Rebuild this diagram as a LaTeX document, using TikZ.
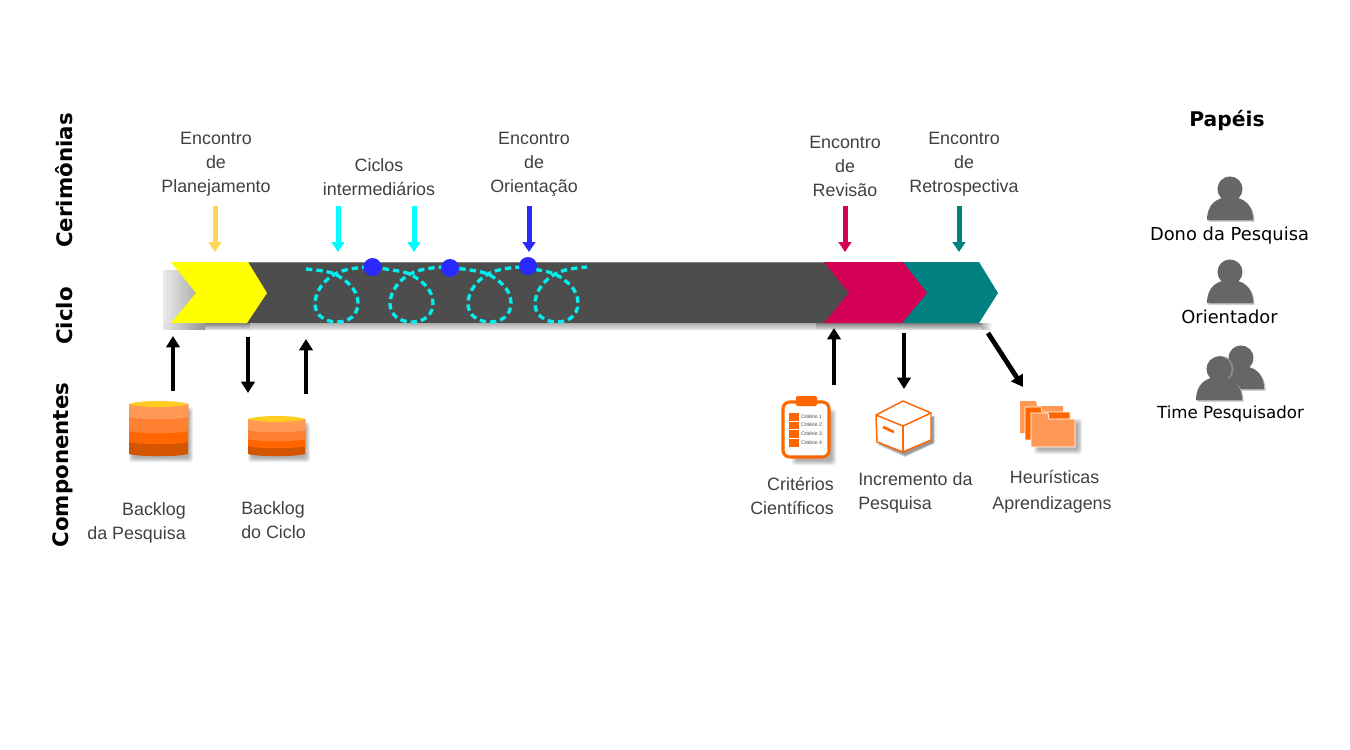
\documentclass[tikz,border=0pt]{standalone}
\usepackage{fontspec}
\setmainfont{Liberation Sans}
\newfontfamily\verd{DejaVu Sans}
\usetikzlibrary{arrows.meta}
\definecolor{bardark}{HTML}{4D4D4D}
\definecolor{txt}{HTML}{404040}
\definecolor{mag}{HTML}{D40055}
\definecolor{tealc}{HTML}{008080}
\definecolor{yarrow}{HTML}{FFD555}
\definecolor{bluec}{HTML}{2A2AFF}
\definecolor{cyanc}{HTML}{00F0F0}
\definecolor{cyana}{HTML}{00FFFF}
\definecolor{yelc}{HTML}{FFFF00}
\definecolor{org}{HTML}{FF6600}
\definecolor{org2}{HTML}{FF9955}
\definecolor{org3}{HTML}{FF8030}
\definecolor{org4}{HTML}{D45500}
\definecolor{topy}{HTML}{FFCC22}
\definecolor{persong}{HTML}{666666}
\tikzset{
  lbl/.style={font=\fontsize{13.4}{18}\selectfont,text=txt,align=center,inner sep=0pt},
  lblr/.style={lbl,align=right,anchor=east},
  lbll/.style={lbl,align=left,anchor=west},
  rolelbl/.style={font=\verd\fontsize{13.4}{14}\selectfont,text=black,inner sep=0pt},
  rowlbl/.style={font=\verd\bfseries\fontsize{16}{18}\selectfont,text=black,rotate=90,inner sep=0pt},
  cerarrow/.style={line width=3.75pt,-{Triangle[width=9.5pt,length=7.5pt]}},
  blkarrow/.style={line width=3.6pt,black,-{Triangle[width=10pt,length=8.5pt]}},
  loopline/.style={cyanc,line width=2.5pt,dash pattern=on 4.8pt off 3pt},
  dot/.style={circle,fill=bluec,minimum size=13.5pt,inner sep=0pt},
  person/.pic={
    \fill[black!28,shift={(1.5,1.5)}] (-23,31) .. controls (-23,15) and (-13,8) .. (0,8) .. controls (13,8) and (23,15) .. (23,31) -- cycle;
    \fill[persong] (-23,31) .. controls (-23,15) and (-13,8) .. (0,8) .. controls (13,8) and (23,15) .. (23,31) -- cycle;
    \fill[persong] (0,0) circle[radius=9.4pt];
  }
}
% soft shadow: x0 y0 x1 y1 of the shadow core
\newcommand{\softrect}[4]{%
  \foreach \ee in {0,1,2,3,4}{%
    \fill[black,fill opacity=0.07,rounded corners=2pt] (#1-\ee,#2-\ee) rectangle (#3+\ee,#4+\ee);
  }%
}
\newcommand{\cylband}[5]{% x0 x1 top bottom colour
  \fill[#5] (#1,#3) -- (#2,#3) -- (#2,#4) .. controls (#2-10,#4+3) and (#1+10,#4+3) .. (#1,#4) -- cycle;
}
\newcommand{\cyl}[7]{% x0 x1 top b1 b2 b3 bottom
  \softrect{#1+4}{#3+10}{#2+1}{#7+2}
  \cylband{#1}{#2}{#3+3}{#7-2}{org4}
  \cylband{#1}{#2}{#3+3}{#6}{org}
  \cylband{#1}{#2}{#3+3}{#5}{org3}
  \cylband{#1}{#2}{#3+3}{#4}{org2}
  \fill[topy] (#1,#3+3) .. controls (#1+10,#3-1) and (#2-10,#3-1) .. (#2,#3+3) .. controls (#2-10,#3+7) and (#1+10,#3+7) .. (#1,#3+3) -- cycle;
}
\newcommand{\loopat}[1]{
  .. controls (#1-18,270) and (#1-8,271) .. (#1,274)
  .. controls (#1+9,279) and (#1+23,288) .. (#1+23,303)
  .. controls (#1+23,315) and (#1+14,322) .. (#1+2,322)
  .. controls (#1-10,322) and (#1-20,315) .. (#1-20,304)
  .. controls (#1-20,290) and (#1-9,279) .. (#1,274)
  .. controls (#1+7,270) and (#1+18,268) .. (#1+32,267)
}
\begin{document}
\begin{tikzpicture}[x=0.75pt,y=-0.75pt]
\useasboundingbox (0,0) rectangle (1350,750);
% bar shadows
\fill[left color=black!8,right color=black!32] (163,270) rectangle (197,323);
\fill[top color=black!32,bottom color=black!12] (205,323) rectangle (830,329);
\fill[left color=black!10,right color=black!42] (163,323) rectangle (205,329);
\fill[top color=black!50,bottom color=black!15] (205,323) rectangle (250,329);
\fill[top color=black!50,bottom color=black!15] (816,323) rectangle (982,329);
\fill[left color=black!30,right color=white] (982,323) rectangle (992,329);
% bar
\fill[bardark] (240,262) rectangle (852,323);
\draw[black!50,line width=0.75pt] (248,262) -- (830,262);
% chevrons
\fill[yelc] (171,262) -- (248,262) -- (267,293) -- (247,323) -- (171,323) -- (196,293) -- cycle;
\fill[tealc] (895,262) -- (979,262) -- (998,293) -- (979,323) -- (895,323) -- cycle;
\fill[mag] (824,262) -- (903,262) -- (927,293) -- (902,323) -- (824,323) -- (849,293) -- cycle;
% loops
\draw[loopline] (306,269) \loopat{335} -- (372,267) \loopat{410} -- (448,267) \loopat{488} -- (524,267) \loopat{555};
\node[dot] (d1) at (372.5,267) {};
\node[dot] (d2) at (450,268) {};
\node[dot] (d3) at (528,266) {};

% ceremony labels
\node[lbl] (plan) at (216,164) {Encontro\\de\\Planejamento};
\node[lbl] (inter) at (379,177.5) {Ciclos\\intermediários};
\node[lbl] (orient) at (534,164) {Encontro\\de\\Orientação};
\node[lbl] (rev) at (845,166) {Encontro\\de\\Revisão};
\node[lbl] (retro) at (964,164) {Encontro\\de\\Retrospectiva};

% ceremony arrows
\coordinate (ya) at (215,206); \coordinate (yb) at (215,252);
\coordinate (c1a) at (338,206); \coordinate (c1b) at (338,252);
\coordinate (c2a) at (414,206); \coordinate (c2b) at (414,252);
\coordinate (ba) at (529,206); \coordinate (bb) at (529,252);
\coordinate (ma) at (845,206); \coordinate (mb) at (845,252);
\coordinate (ta) at (959,206); \coordinate (tb) at (959,252);
\draw[cerarrow,yarrow] (ya) -- (yb);
\draw[cerarrow,cyana] (c1a) -- (c1b);
\draw[cerarrow,cyana] (c2a) -- (c2b);
\draw[cerarrow,bluec] (ba) -- (bb);
\draw[cerarrow,mag] (ma) -- (mb);
\draw[cerarrow,tealc] (ta) -- (tb);

% row labels
\node[rowlbl] (rc) at (64.5,180.5) {Cerimônias};
\node[rowlbl] (rd) at (65,316) {Ciclo};
\node[rowlbl] (re) at (62.5,465) {Componentes};

% black arrows
\coordinate (a1a) at (173,391); \coordinate (a1b) at (173,336);
\coordinate (a2a) at (248,337); \coordinate (a2b) at (248,393);
\coordinate (a3a) at (306,394); \coordinate (a3b) at (306,339);
\coordinate (a4a) at (834,385); \coordinate (a4b) at (834,328);
\coordinate (a5a) at (904,333); \coordinate (a5b) at (904,389);
\coordinate (a6a) at (988,333); \coordinate (a6b) at (1023,387);
\draw[blkarrow] (a1a) -- (a1b);
\draw[blkarrow] (a2a) -- (a2b);
\draw[blkarrow] (a3a) -- (a3b);
\draw[blkarrow] (a4a) -- (a4b);
\draw[blkarrow] (a5a) -- (a5b);
\draw[blkarrow] (a6a) -- (a6b);

% cylinders
\cyl{129}{188}{401}{417}{431}{442}{456}
\cyl{248}{305}{416}{430}{439}{446}{456}
\node[lblr] (bp) at (186,523) {Backlog\\da Pesquisa};
\node[lbll] (bc) at (241,520.5) {Backlog\\do Ciclo};

% clipboard
\softrect{796}{413}{832}{461}
\draw[org,fill=white,line width=2.3pt,rounded corners=5pt] (783,402) rectangle (829,457);
\fill[org,rounded corners=1pt] (796,396) rectangle (817,406);
\fill[org] (789,413) rectangle (799,421);
\fill[org] (789,422) rectangle (799,429);
\fill[org] (789,430) rectangle (799,438);
\fill[org] (789,439) rectangle (799,447);
\foreach \yy/\tt in {417/1,425/2,434/3,443/4}
  \node[font=\fontsize{3.8}{4}\selectfont,text=txt,anchor=west,inner sep=0pt] (crit\tt) at (801,\yy) {Critério \tt};
\node[lblr] (cc) at (834,496) {Critérios\\Científicos};

% box
\foreach \ee in {0,1,2}{
  \fill[black,fill opacity=0.16] (878,443+\ee) -- (905,455+\ee) -- (933+\ee,443) -- (933+\ee,416) -- (903,430) -- cycle;
}
\draw[org,fill=white,line width=1.1pt,line join=round] (903,401) -- (931,413) -- (931,440) -- (903,452) -- (877,442) -- (876,415) -- cycle;
\draw[org,line width=1.1pt,line join=round] (876,415) -- (903,426) -- (931,413);
\draw[org,line width=1.1pt] (903,426) -- (903,452);
\draw[org,line width=2pt] (883,427) -- (894,432);
\node[lbll] (inc) at (858,493) {Incremento da\\Pesquisa};

% folders
\softrect{1038}{423}{1078}{450}
\fill[org2] (1020,433) -- (1020,401) -- (1036,401) -- (1037,406) -- (1063,406) -- (1063,433) -- cycle;
\draw[white,fill=org,line width=0.5pt] (1025,440) -- (1025,407) -- (1041,407) -- (1042,412) -- (1070,412) -- (1070,440) -- cycle;
\draw[white,fill=org2,line width=0.6pt] (1031,447) -- (1031,413) -- (1048,413) -- (1049,419) -- (1075,419) -- (1075,447) -- cycle;
\node[lbl] (heu) at (1052,492) {\hspace*{4pt}Heurísticas\\[1.5pt]Aprendizagens};

% roles
\node[font=\verd\bfseries\fontsize{15.2}{18}\selectfont,inner sep=0pt] (pap) at (1227,120.5) {Papéis};
\pic at (1230,189) {person};
\node[rolelbl] (dono) at (1229.5,235.5) {Dono da Pesquisa};
\pic at (1230,272) {person};
\node[rolelbl] (ori) at (1229.5,317) {Orientador};
\pic at (1241,358) {person};
\fill[black!45] (1220.5,369) circle[radius=9.8pt];
\pic at (1219,369) {person};
\node[rolelbl,font=\verd\fontsize{12.5}{14}\selectfont] (time) at (1230.5,414) {Time Pesquisador};
\end{tikzpicture}
\end{document}
